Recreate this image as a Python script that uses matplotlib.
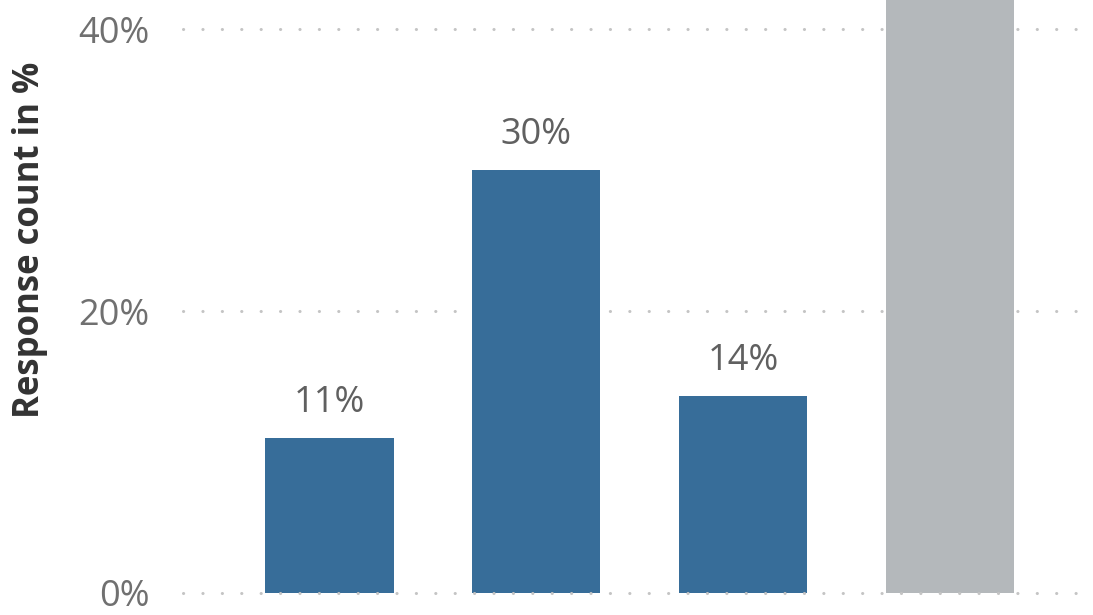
import matplotlib.pyplot as plt

categories = ["A", "B", "C", "D"]
values = [11, 30, 14, 45]
bar_colors = ["#376d99", "#376d99", "#376d99", "#b4b8bb"]
label_bars = [True, True, True, False]
yticks = [0, 20, 40]

plt.rcParams['font.family'] = ['Open Sans', 'DejaVu Sans']

fig = plt.figure(figsize=(10.93, 6.15), dpi=100)
ax = fig.add_axes([0.167, 0.0358, 0.821, 0.9642])

x = range(len(categories))
bars = ax.bar(x, values, width=0.62, color=bar_colors, zorder=2)

for b, v, show in zip(bars, values, label_bars):
    if show:
        ax.annotate(f"{v}%", (b.get_x() + b.get_width() / 2, v),
                    xytext=(0, 12), textcoords="offset points",
                    ha="center", va="bottom", fontsize=26, color="#606060")

ax.set_xlim(-0.711, 3.629)
ax.set_ylim(0, 42.06)
ax.set_yticks(yticks)
ax.set_yticklabels([f"{t}%" for t in yticks])
ax.set_xticks([])
ax.tick_params(axis="y", length=0, pad=24, labelsize=26, labelcolor="#707070")

# dotted grid lines
for t in yticks:
    ax.axhline(t, color="#c4c4c4", lw=2.2, linestyle=(0, (0.05, 6.3)),
               dash_capstyle="round", zorder=1 if t > 0 else 3, clip_on=False)

for s in ax.spines.values():
    s.set_visible(False)

fig.text(30 / 1093, 1 - 240 / 615, "Response count in %", rotation=90,
         ha="center", va="center", fontsize=25, fontweight="bold", color="#333333")

fig.savefig("out.png", dpi=100)
